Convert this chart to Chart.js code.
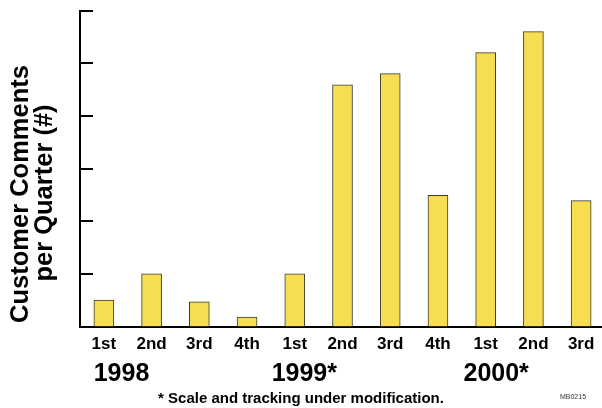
<!DOCTYPE html>
<html>
<head>
<meta charset="utf-8">
<script src="https://cdn.jsdelivr.net/npm/chart.js@4.4.1/dist/chart.umd.min.js"></script>
<style>
  html, body { margin: 0; padding: 0; background: #fff; overflow: hidden; width: 602px; height: 408px; }
  #wrap { position: relative; width: 605px; height: 408px; }
</style>
</head>
<body>
<div id="wrap"><canvas id="c" width="605" height="408"></canvas></div>
<script>
// Quarterly customer comment counts (scale units), 1998 through Q3 2000
const quarters = ['1st', '2nd', '3rd', '4th', '1st', '2nd', '3rd', '4th', '1st', '2nd', '3rd'];
const comments = [0.5, 1.0, 0.47, 0.18, 1.0, 4.59, 4.8, 2.49, 5.2, 5.6, 2.39];
const years = ['1998', '1999*', '2000*'];
const yTicks = [0, 1, 2, 3, 4, 5, 6];
const footnote = '* Scale and tracking under modification.';
const docCode = 'MB0215';
const yTitle = ['Customer Comments', 'per Quarter (#)'];

const FONT = "'Liberation Sans', Arial, Helvetica, sans-serif";

// Extra drawing: inward y tick marks, axis title, year labels, footnote
const decorations = {
  id: 'decorations',
  afterDraw(chart) {
    const ctx = chart.ctx;
    const x = chart.scales.x, y = chart.scales.y;
    const left = chart.chartArea.left;
    ctx.save();
    ctx.strokeStyle = '#000';
    ctx.lineWidth = 2;
    yTicks.forEach(v => {
      const py = Math.round(y.getPixelForValue(v));
      ctx.beginPath();
      ctx.moveTo(left - 1, py);
      ctx.lineTo(left + 13, py);
      ctx.stroke();
    });

    ctx.fillStyle = '#000';
    // rotated axis title
    ctx.font = 'bold 25.5px ' + FONT;
    ctx.textAlign = 'center';
    ctx.textBaseline = 'alphabetic';
    [[28, 194], [52, 193]].forEach((p, i) => {
      ctx.save();
      ctx.translate(p[0], p[1]);
      ctx.rotate(-Math.PI / 2);
      ctx.fillText(yTitle[i], 0, 0);
      ctx.restore();
    });

    // year captions, placed relative to the quarter positions
    const yearAt = [0.37, 4.2, 8.22];
    ctx.font = 'bold 25px ' + FONT;
    years.forEach((t, i) => {
      const base = x.getPixelForValue(Math.floor(yearAt[i]));
      const step = x.getPixelForValue(1) - x.getPixelForValue(0);
      ctx.fillText(t, base + (yearAt[i] % 1) * step, 381);
    });

    ctx.font = 'bold 15px ' + FONT;
    ctx.fillText(footnote, 301, 403);

    ctx.font = "7px 'Liberation Sans Narrow', " + FONT;
    ctx.fillStyle = '#333';
    ctx.fillText(docCode, 573, 399);
    ctx.restore();
  }
};

new Chart(document.getElementById('c'), {
  type: 'bar',
  data: {
    labels: quarters,
    datasets: [{
      data: comments,
      backgroundColor: '#F6DD52',
      borderColor: '#3a3a34',
      borderWidth: 1,
      borderSkipped: 'bottom',
      barThickness: 20
    }]
  },
  options: {
    responsive: false,
    animation: false,
    devicePixelRatio: 1,
    layout: { padding: { left: 0, right: 0, top: 10.5, bottom: 0 } },
    plugins: { legend: { display: false }, tooltip: { enabled: false } },
    scales: {
      x: {
        grid: { display: false },
        border: { display: true, color: '#000', width: 2 },
        ticks: {
          color: '#000',
          font: { family: FONT, size: 17, weight: 'bold' },
          padding: 0,
          maxRotation: 0,
          autoSkip: false
        },
        afterFit(scale) { scale.height = 81.5; }
      },
      y: {
        min: 0,
        max: 6,
        grid: { display: false },
        border: { display: true, color: '#000', width: 2 },
        ticks: { display: false, stepSize: 1 },
        afterFit(scale) { scale.width = 80; }
      }
    }
  },
  plugins: [decorations]
});
</script>
</body>
</html>
